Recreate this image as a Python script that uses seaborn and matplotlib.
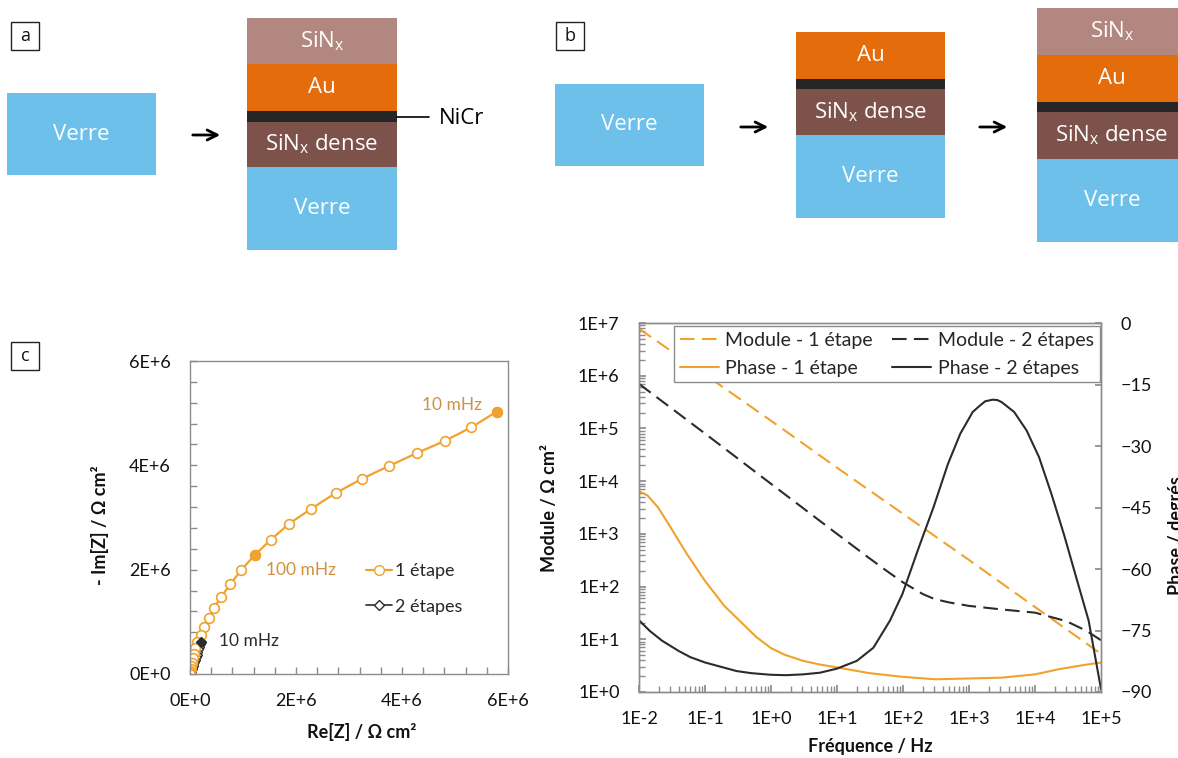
import numpy as np
import pandas as pd
import matplotlib
matplotlib.use("Agg")
import matplotlib.pyplot as plt
import matplotlib.ticker as mticker
from matplotlib.patches import Rectangle
from matplotlib.lines import Line2D
import seaborn as sns

# Nyquist data (x 1E+6 Ohm cm2), first point = 10 mHz, 10 points per decade
re_1 = [5.79, 5.31, 4.81, 4.29, 3.76, 3.24, 2.75, 2.29, 1.87, 1.52, 1.22, 0.965, 0.758, 0.59,
        0.454, 0.35, 0.266, 0.207, 0.14, 0.10, 0.07, 0.05, 0.035, 0.022, 0.013, 0.007, 0.003, 0.001]
im_1 = [5.03, 4.73, 4.47, 4.24, 3.99, 3.74, 3.47, 3.17, 2.88, 2.57, 2.28, 1.99, 1.72, 1.48,
        1.27, 1.07, 0.898, 0.75, 0.62, 0.50, 0.39, 0.30, 0.22, 0.15, 0.09, 0.05, 0.02, 0.005]
re_2 = [0.20, 0.185, 0.17, 0.155, 0.14, 0.125, 0.11, 0.095, 0.08, 0.065, 0.05, 0.04, 0.03,
        0.02, 0.012, 0.006, 0.003, 0.001]
im_2 = [0.62, 0.57, 0.52, 0.47, 0.42, 0.37, 0.32, 0.27, 0.23, 0.19, 0.15, 0.12, 0.09,
        0.06, 0.035, 0.018, 0.008, 0.003]
idx_10mhz = 0
idx_100mhz = 10

# Bode data
f_mod1 = [1e-2, 1e-1, 1e0, 1e1, 1e2, 1e3, 1e4, 1e5]
mod_1 = [7.8e6, 1.05e6, 1.4e5, 1.8e4, 2.4e3, 3.2e2, 41, 5.3]
f_mod2 = [1e-2, 1e-1, 1e0, 1e1, 30, 56, 1e2, 200, 300, 500, 1e3, 3e3, 1e4, 3e4, 6e4, 1e5]
mod_2 = [7e5, 8e4, 8.9e3, 1.0e3, 355, 200, 120, 72, 58, 50, 43, 37, 32, 22, 14.5, 9.6]
f_ph1 = [1e-2, 0.0135, 0.0195, 0.030, 0.0535, 0.1, 0.196, 0.404, 0.6, 1.0, 1.6, 3.05, 5.5,
         10, 30.8, 98, 309, 1e3, 3126, 1e4, 23660, 56000, 1e5]
ph_1 = [-41.0, -42.1, -45.0, -49.8, -56.4, -62.9, -69.0, -73.9, -76.6, -79.3, -80.9, -82.4,
        -83.3, -84.0, -85.4, -86.3, -86.9, -86.7, -86.5, -85.7, -84.4, -83.4, -82.8]
f_ph2 = [1e-2, 0.01456, 0.0224, 0.04, 0.06, 0.1, 0.302, 0.5, 1.0, 1.7, 3.05, 5.5, 10, 20, 35.6,
         63.4, 98, 174, 289, 479, 738, 1138, 1450, 1758, 2277, 2700, 3126, 4829, 7450, 11500,
         17740, 27370, 42200, 65000, 1e5]
ph_2 = [-72.5, -75.1, -77.5, -80.0, -81.5, -82.8, -84.9, -85.4, -85.8, -85.9, -85.7, -85.3,
        -84.3, -82.4, -79.2, -72.6, -66.1, -54.7, -45.0, -34.4, -27.0, -21.7, -20.2, -19.1,
        -18.7, -18.8, -19.3, -21.7, -26.2, -32.7, -41.7, -51.5, -62.1, -72.6, -89.3]

# schematic layers
layer_colors = {"SiNx": "#b1877f", "Au": "#e46c0b", "NiCr": "#262626",
                "SiNx dense": "#7c524b", "Verre": "#6cc0ea"}
layer_text = {"SiNx": "SiN$_\\mathrm{x}$", "Au": "Au", "NiCr": "",
              "SiNx dense": "SiN$_\\mathrm{x}$ dense", "Verre": "Verre"}

ORANGE = "#f0a22e"
DARK = "#2b2b2b"
GRAY = "#8c8c8c"

sns.set_theme(style="ticks")
plt.rcParams["font.family"] = ["Lato", "DejaVu Sans"]
plt.rcParams["mathtext.fontset"] = "custom"
plt.rcParams["mathtext.rm"] = "Open Sans"
plt.rcParams["mathtext.it"] = "Open Sans"

fig = plt.figure(figsize=(11.78, 7.58), dpi=100)

# ---------- schematic (pixel coordinates) ----------
ov = fig.add_axes([0, 0, 1, 1])
ov.set_xlim(0, 1178)
ov.set_ylim(758, 0)
ov.axis("off")
SF = ["Open Sans", "DejaVu Sans"]


def draw_stack(x0, x1, layers):
    for name, y0, y1 in layers:
        ov.add_patch(Rectangle((x0, y0), x1 - x0, y1 - y0, color=layer_colors[name], lw=0))
        if layer_text[name]:
            ov.text((x0 + x1) / 2, (y0 + y1) / 2, layer_text[name], color="white",
                    fontsize=16, ha="center", va="center", family=SF)


def panel_box(x, y, s):
    ov.add_patch(Rectangle((x, y), 28, 28, fill=False, ec="#222222", lw=1))
    ov.text(x + 14, y + 14, s, fontsize=13, ha="center", va="center", family=SF, color="#111111")


def arrow(x0, x1, y):
    ov.annotate("", xy=(x1, y), xytext=(x0, y),
                arrowprops=dict(arrowstyle="->", lw=2, color="black", mutation_scale=18))


panel_box(11, 22, "a")
draw_stack(7, 156, [("Verre", 93, 175)])
arrow(190, 223, 135)
draw_stack(247, 397, [("SiNx", 18, 64), ("Au", 64, 111), ("NiCr", 111, 122),
                      ("SiNx dense", 122, 167), ("Verre", 167, 250)])
ov.plot([397, 429], [117, 117], color="black", lw=1.2)
ov.text(439, 118, "NiCr", fontsize=16, ha="left", va="center", family=SF, color="black")

panel_box(556, 22, "b")
draw_stack(555, 704, [("Verre", 84, 166)])
arrow(738, 771, 127)
draw_stack(796, 945, [("Au", 32, 79), ("NiCr", 79, 89), ("SiNx dense", 89, 135),
                      ("Verre", 135, 218)])
arrow(977, 1010, 127)
draw_stack(1037, 1187, [("SiNx", 8, 55), ("Au", 55, 102), ("NiCr", 102, 112),
                        ("SiNx dense", 112, 159), ("Verre", 159, 242)])

panel_box(11, 342, "c")

# ---------- Nyquist ----------
axn = fig.add_axes([190 / 1178, 1 - 674 / 758, 318 / 1178, 313 / 758])
ny1 = pd.DataFrame({"re": np.array(re_1) * 1e6, "im": np.array(im_1) * 1e6})
ny2 = pd.DataFrame({"re": np.array(re_2) * 1e6, "im": np.array(im_2) * 1e6})
sns.lineplot(data=ny2, x="re", y="im", sort=False, estimator=None, ax=axn, color=DARK,
             lw=1.2, marker="D", markersize=5, markerfacecolor="white",
             markeredgecolor=DARK, markeredgewidth=1)
sns.lineplot(data=ny1, x="re", y="im", sort=False, estimator=None, ax=axn, color=ORANGE,
             lw=1.6, marker="o", markersize=7, markerfacecolor="white",
             markeredgecolor=ORANGE, markeredgewidth=1.2)
for i in (idx_10mhz, idx_100mhz):
    axn.plot(ny1["re"][i], ny1["im"][i], "o", color=ORANGE, ms=7)
axn.plot(ny2["re"][0], ny2["im"][0], "D", color=DARK, ms=5)

axn.text(5.51e6, 5.16e6, "10 mHz", color="#d0913f", fontsize=12.5, ha="right", va="center")
axn.text(1.43e6, 1.99e6, "100 mHz", color="#d0913f", fontsize=12.5, ha="left", va="center")
axn.text(0.55e6, 0.64e6, "10 mHz", color=DARK, fontsize=12.5, ha="left", va="center")

axn.set_xlim(0, 6e6)
axn.set_ylim(0, 6e6)
fmt_n = mticker.FuncFormatter(lambda v, _: "0E+0" if v == 0 else f"{v / 1e6:.0f}E+6")
for a in (axn.xaxis, axn.yaxis):
    a.set_major_locator(mticker.MultipleLocator(2e6))
    a.set_minor_locator(mticker.MultipleLocator(0.4e6))
    a.set_major_formatter(fmt_n)
axn.tick_params(which="both", direction="in", color=GRAY, labelsize=13, pad=14,
                labelcolor="#111111")
axn.tick_params(which="major", length=5, width=1)
axn.tick_params(which="minor", length=5, width=1)
for sp in axn.spines.values():
    sp.set_color(GRAY)
    sp.set_linewidth(1)
axn.set_xlabel("Re[Z] / Ω cm²", fontsize=13, fontweight="bold", color="#111111")
axn.set_ylabel("- Im[Z] / Ω cm²", fontsize=13, fontweight="bold", color="#111111")
axn.xaxis.set_label_coords(0.54, -0.155)
axn.yaxis.set_label_coords(-0.255, 0.476)

hl = [Line2D([], [], color=ORANGE, lw=1.6, marker="o", ms=7, mfc="white", mec=ORANGE),
      Line2D([], [], color=DARK, lw=1.2, marker="D", ms=5, mfc="white", mec=DARK)]
axn.legend(hl, ["1 étape", "2 étapes"], loc="upper left", bbox_to_anchor=(0.555, 0.355),
           frameon=False, fontsize=13, handlelength=1.4, handletextpad=0.2,
           labelspacing=1.1, borderpad=0, borderaxespad=0)

# ---------- Bode ----------
axb = fig.add_axes([639 / 1178, 1 - 692 / 758, 462 / 1178, 369 / 758])
axp = axb.twinx()
dash = (0, (7, 3.5))
l1 = sns.lineplot(x=f_mod1, y=mod_1, ax=axb, color=ORANGE, lw=1.5, linestyle=dash,
                  sort=False, estimator=None).get_lines()[-1]
l2 = sns.lineplot(x=f_mod2, y=mod_2, ax=axb, color=DARK, lw=1.5, linestyle=dash,
                  sort=False, estimator=None).get_lines()[-1]
l3 = sns.lineplot(x=f_ph1, y=ph_1, ax=axp, color=ORANGE, lw=1.5, sort=False,
                  estimator=None).get_lines()[-1]
l4 = sns.lineplot(x=f_ph2, y=ph_2, ax=axp, color=DARK, lw=1.5, sort=False,
                  estimator=None).get_lines()[-1]

axb.set_xscale("log")
axb.set_yscale("log")
axb.set_xlim(1e-2, 1e5)
axb.set_ylim(1, 1e7)
axp.set_ylim(-90, 0)
axp.yaxis.set_major_locator(mticker.MultipleLocator(15))
fmt_log = mticker.FuncFormatter(lambda v, _: f"1E{int(round(np.log10(v))):+d}")
for a in (axb.xaxis, axb.yaxis):
    a.set_major_locator(mticker.LogLocator(base=10, numticks=20))
    a.set_minor_locator(mticker.LogLocator(base=10, subs=np.arange(2, 10), numticks=20))
    a.set_major_formatter(fmt_log)
    a.set_minor_formatter(mticker.NullFormatter())
axb.tick_params(which="both", direction="in", color=GRAY, labelsize=13, pad=14,
                labelcolor="#111111")
axb.tick_params(which="major", length=5)
axb.tick_params(which="minor", length=4)
axp.tick_params(which="both", direction="in", color=GRAY, labelsize=13, pad=14, length=4,
                labelcolor="#111111")
for a in (axb, axp):
    for sp in a.spines.values():
        sp.set_color(GRAY)
        sp.set_linewidth(1)

axb.set_xlabel("Fréquence / Hz", fontsize=13, fontweight="bold", color="#111111")
axb.set_ylabel("Module / Ω cm²", fontsize=13, fontweight="bold", color="#111111")
axp.set_ylabel("Phase / degrés", fontsize=13, fontweight="bold", color="#111111")
axb.xaxis.set_label_coords(0.5, -0.125)
axb.yaxis.set_label_coords(-0.175, 0.5)
axp.yaxis.set_label_coords(1.145, 0.425)

leg = axp.legend([l1, l3, l2, l4],
                 ["Module - 1 étape", "Phase - 1 étape", "Module - 2 étapes", "Phase - 2 étapes"],
                 ncol=2, loc="upper right", bbox_to_anchor=(1100 / 1178, 1 - 326 / 758),
                 bbox_transform=fig.transFigure, fontsize=14, frameon=True, fancybox=False,
                 edgecolor=GRAY, framealpha=1, borderaxespad=0, columnspacing=1.0,
                 handlelength=2.0, handletextpad=0.35, labelspacing=0.55, borderpad=0.3)
leg.get_frame().set_linewidth(1)

fig.savefig("out.png", dpi=100)
